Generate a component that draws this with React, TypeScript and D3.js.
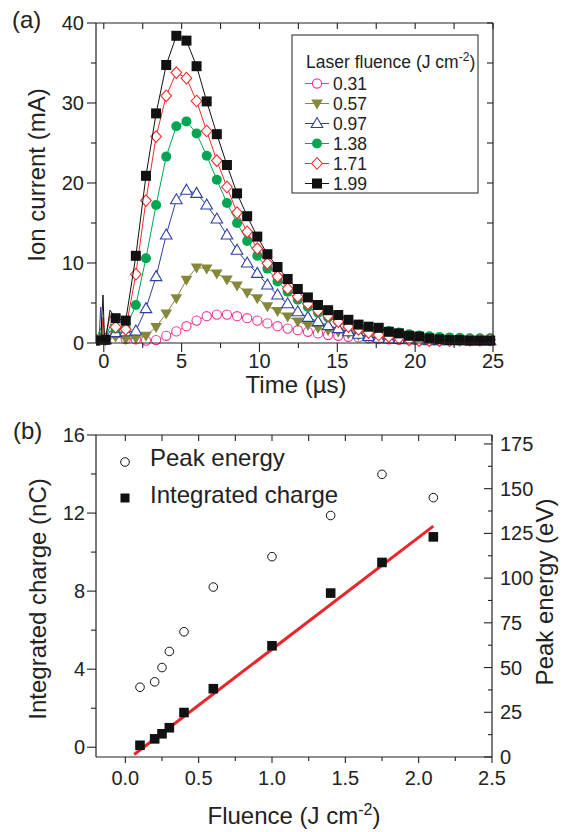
import React from 'react';
import * as d3 from 'd3';

// ---------- Panel (a) data ----------
const TIME = [-0.54, 0.11, 0.76, 1.41, 2.06, 2.71, 3.36, 4.01, 4.66, 5.31, 5.96, 6.61, 7.26, 7.91, 8.56, 9.21, 9.86, 10.51, 11.16, 11.81, 12.46, 13.11, 13.76, 14.41, 15.06, 15.71, 16.36, 17.01, 17.66, 18.31, 18.96, 19.61, 20.26, 20.91, 21.56, 22.21, 22.86, 23.51, 24.16, 24.81];

const ION_031 = [0.5, 0.4, 1.1, 0.5, 0.45, 0.3, 0.37, 0.9, 1.45, 2.1, 2.8, 3.35, 3.55, 3.55, 3.35, 3.1, 2.8, 2.45, 2.1, 1.8, 1.6, 1.4, 1.2, 1.0, 0.9, 0.78, 0.7, 0.58, 0.5, 0.45, 0.4, 0.4, 0.3, 0.3, 0.3, 0.3, 0.3, 0.3, 0.3, 0.3];
const ION_057 = [0.3, 0.3, 0.8, 0.5, 0.6, 0.9, 2.0, 3.7, 5.6, 7.9, 9.45, 9.3, 8.7, 7.95, 7.2, 6.3, 5.6, 4.6, 4.0, 3.3, 2.7, 2.25, 1.9, 1.6, 1.4, 1.2, 1.0, 0.85, 0.7, 0.6, 0.5, 0.45, 0.4, 0.35, 0.35, 0.35, 0.3, 0.3, 0.3, 0.3];
const ION_097 = [0.4, 0.4, 1.3, 1.4, 1.5, 4.3, 8.3, 13.5, 17.9, 19.1, 18.7, 17.25, 15.5, 13.5, 11.6, 10.0, 8.7, 7.25, 6.0, 4.9, 3.9, 3.2, 2.67, 2.17, 1.8, 1.4, 1.1, 0.8, 0.6, 0.5, 0.45, 0.4, 0.35, 0.3, 0.3, 0.3, 0.3, 0.3, 0.3, 0.3];
const ION_138 = [0.4, 0.5, 1.8, 1.8, 4.75, 10.6, 17.25, 23.3, 27.1, 27.7, 26.2, 23.4, 20.4, 17.5, 15.0, 12.75, 10.9, 9.3, 7.7, 6.4, 5.4, 4.5, 3.8, 3.2, 2.7, 2.3, 2.0, 1.8, 1.65, 1.5, 1.3, 1.1, 0.95, 0.85, 0.75, 0.7, 0.65, 0.6, 0.6, 0.6];
const ION_171 = [0.4, 0.5, 2.0, 1.7, 8.6, 17.8, 25.8, 30.9, 33.8, 33.1, 30.25, 26.5, 22.8, 19.5, 16.3, 13.9, 11.8, 9.96, 8.3, 6.8, 5.8, 4.9, 4.05, 3.4, 2.67, 2.04, 1.7, 1.3, 1.0, 0.8, 0.6, 0.4, 0.3, 0.3, 0.3, 0.3, 0.35, 0.35, 0.35, 0.4];
const ION_199 = [0.3, 0.4, 3.1, 2.8, 10.9, 20.9, 28.7, 34.75, 38.4, 37.8, 34.6, 30.2, 26.1, 22.25, 18.7, 15.85, 13.3, 11.1, 9.5, 8.0, 6.75, 5.7, 4.75, 4.1, 3.5, 2.9, 2.3, 2.04, 1.9, 1.4, 1.2, 0.9, 0.8, 0.58, 0.46, 0.37, 0.37, 0.3, 0.3, 0.3];

// unmarked noise spikes near t = 0 (line only)
const SPIKE_T_031 = [-0.1, 0.0];
const SPIKE_V_031 = [1.0, 0.3];
const SPIKE_T_057 = [-0.1, 0.0];
const SPIKE_V_057 = [1.4, 0.3];
const SPIKE_T_097 = [-0.3, -0.2, -0.1, 0.4];
const SPIKE_V_097 = [0.4, 4.5, 0.3, 1.5];
const SPIKE_T_138 = [-0.1, 0.0, 0.45];
const SPIKE_V_138 = [2.2, 0.3, 2.4];
const SPIKE_T_171 = [-0.15, -0.05, 0.05, 0.4];
const SPIKE_V_171 = [0.5, 3.2, 0.4, 3.4];
const SPIKE_T_199 = [-0.2, -0.05, 0.05, 0.4];
const SPIKE_V_199 = [0.3, 6.0, 0.3, 4.1];

const FLUENCE_LABELS = ['0.31', '0.57', '0.97', '1.38', '1.71', '1.99'];
const TIME_TICKS = [0, 5, 10, 15, 20, 25];
const ION_TICKS = [0, 10, 20, 30, 40];

// ---------- Panel (b) data ----------
const FLUENCE = [0.1, 0.2, 0.25, 0.3, 0.4, 0.6, 1.0, 1.4, 1.75, 2.1];
const PEAK_ENERGY = [39, 42, 50, 59, 70, 95, 112, 135, 158, 145];
const CHARGE = [0.1, 0.43, 0.69, 1.0, 1.78, 3.0, 5.2, 7.9, 9.47, 10.78];
const FIT_X = [0.06, 2.1];
const FIT_Y = [-0.37, 11.33];
const FLUENCE_TICKS = [0, 0.5, 1.0, 1.5, 2.0, 2.5];
const CHARGE_TICKS = [0, 4, 8, 12, 16];
const ENERGY_TICKS = [0, 25, 50, 75, 100, 125, 150, 175];

const FONT = 'Liberation Sans, Arial, Helvetica, sans-serif';

type Shape = 'circleOpen' | 'triDownFilled' | 'triUpOpen' | 'circleFilled' | 'diamondOpen' | 'squareFilled';

function Marker({ shape, x, y, color }: { shape: Shape; x: number; y: number; color: string }) {
  switch (shape) {
    case 'circleOpen':
      return <circle cx={x} cy={y} r={4.6} fill="white" stroke={color} strokeWidth={1.1} />;
    case 'circleFilled':
      return <circle cx={x} cy={y} r={5} fill={color} />;
    case 'squareFilled':
      return <rect x={x - 5} y={y - 5} width={10} height={10} fill={color} />;
    case 'diamondOpen':
      return (
        <polygon
          points={`${x},${y - 5.8} ${x + 5.3},${y} ${x},${y + 5.8} ${x - 5.3},${y}`}
          fill="white"
          stroke={color}
          strokeWidth={1.1}
        />
      );
    case 'triUpOpen':
      return (
        <polygon
          points={`${x},${y - 6} ${x + 5.8},${y + 4} ${x - 5.8},${y + 4}`}
          fill="white"
          stroke={color}
          strokeWidth={1.1}
        />
      );
    case 'triDownFilled':
      return <polygon points={`${x - 5.8},${y - 4} ${x + 5.8},${y - 4} ${x},${y + 6}`} fill={color} />;
  }
  return null;
}

const SERIES = [
  { label: FLUENCE_LABELS[0], values: ION_031, st: SPIKE_T_031, sv: SPIKE_V_031, color: '#f0389a', shape: 'circleOpen' as Shape },
  { label: FLUENCE_LABELS[1], values: ION_057, st: SPIKE_T_057, sv: SPIKE_V_057, color: '#85873a', shape: 'triDownFilled' as Shape },
  { label: FLUENCE_LABELS[2], values: ION_097, st: SPIKE_T_097, sv: SPIKE_V_097, color: '#2e3f9e', shape: 'triUpOpen' as Shape },
  { label: FLUENCE_LABELS[3], values: ION_138, st: SPIKE_T_138, sv: SPIKE_V_138, color: '#00a651', shape: 'circleFilled' as Shape },
  { label: FLUENCE_LABELS[4], values: ION_171, st: SPIKE_T_171, sv: SPIKE_V_171, color: '#f02a2a', shape: 'diamondOpen' as Shape },
  { label: FLUENCE_LABELS[5], values: ION_199, st: SPIKE_T_199, sv: SPIKE_V_199, color: '#111111', shape: 'squareFilled' as Shape },
];

export default function App() {
  // ---- Panel (a) scales ----
  const xA = d3.scaleLinear().domain([-0.5, 25]).range([96, 493]);
  const yA = d3.scaleLinear().domain([0, 40]).range([343, 23]);
  const lineA = d3
    .line<[number, number]>()
    .x((d) => xA(d[0]))
    .y((d) => yA(d[1]));

  // ---- Panel (b) scales ----
  const xB = d3.scaleLinear().domain([-0.2, 2.5]).range([96, 492]);
  const yB = d3.scaleLinear().domain([-0.5, 16]).range([757, 435]);
  const yE = d3.scaleLinear().domain([0, 180]).range([757, 435]);
  const lineB = d3
    .line<[number, number]>()
    .x((d) => xB(d[0]))
    .y((d) => yB(d[1]));

  const tickFont = 20;

  const aMinorX = d3.range(0, 25.01, 2.5);
  const aMinorY = d3.range(0, 40.01, 5);
  const bMinorX = d3.range(0, 2.51, 0.25);
  const bMinorY = d3.range(0, 16.01, 2);
  const bMinorE = d3.range(0, 180.01, 12.5);

  return (
    <svg
      width={566}
      height={832}
      style={{ position: 'absolute', left: 0, top: 0, background: 'white' }}
      fontFamily={FONT}
    >
      <defs>
        <clipPath id="clipA">
          <rect x={96} y={0} width={420} height={360} />
        </clipPath>
      </defs>

      {/* ================= Panel (a) ================= */}
      <text x={12} y={28} fontSize={24} fill="#222">(a)</text>

      {/* series */}
      <g clipPath="url(#clipA)">
        {SERIES.map((s) => {
          const pts: [number, number][] = TIME.map((t, i) => [t, s.values[i]] as [number, number]);
          const spikes: [number, number][] = s.st.map((t, i) => [t, s.sv[i]] as [number, number]);
          const all = [...pts, ...spikes].sort((a, b) => a[0] - b[0]);
          return (
            <g key={s.label}>
              <path d={lineA(all) || ''} fill="none" stroke={s.color} strokeWidth={1} />
              {pts.map((p, i) => (
                <Marker key={i} shape={s.shape} x={xA(p[0])} y={yA(p[1])} color={s.color} />
              ))}
            </g>
          );
        })}
      </g>

      {/* axes frame */}
      <g stroke="#222" strokeWidth={1.2} fill="none">
        <line x1={96} y1={23} x2={96} y2={343} />
        <line x1={96} y1={343} x2={493} y2={343} />
        <line x1={96} y1={23} x2={493} y2={23} />
        <line x1={493} y1={23} x2={493} y2={343} />
      </g>
      <g stroke="#222" strokeWidth={1.1}>
        {aMinorX.map((v) => {
          const major = v % 5 === 0;
          return (
            <g key={'ax' + v}>
              <line x1={xA(v)} x2={xA(v)} y1={343} y2={343 + (major ? 9 : 5)} />
              <line x1={xA(v)} x2={xA(v)} y1={23} y2={23 + 6} />
            </g>
          );
        })}
        {aMinorY.map((v) => {
          const major = v % 10 === 0;
          return (
            <g key={'ay' + v}>
              <line x1={96 - (major ? 9 : 5)} x2={96} y1={yA(v)} y2={yA(v)} />
              <line x1={493 - 6} x2={493} y1={yA(v)} y2={yA(v)} />
            </g>
          );
        })}
      </g>
      <g fontSize={tickFont} fill="#222">
        {TIME_TICKS.map((v) => (
          <text key={'tx' + v} x={xA(v)} y={368} textAnchor="middle">{v}</text>
        ))}
        {ION_TICKS.map((v) => (
          <text key={'ty' + v} x={84} y={yA(v) + 7} textAnchor="end">{v}</text>
        ))}
      </g>
      <text x={296} y={393} fontSize={24} textAnchor="middle" fill="#222">Time (µs)</text>
      <text transform="translate(45,175) rotate(-90)" fontSize={24} textAnchor="middle" fill="#222">Ion current (mA)</text>

      {/* legend */}
      <rect x={292} y={35} width={186} height={158} fill="white" stroke="#222" strokeWidth={1} />
      <text x={306} y={68} fontSize={17.5} fill="#222">
        Laser fluence (J cm
        <tspan dy={-7} fontSize={12}>-2</tspan>
        <tspan dy={7}>)</tspan>
      </text>
      {SERIES.map((s, i) => {
        const cy = 83.5 + 20 * i;
        return (
          <g key={'lg' + s.label}>
            <line x1={305} x2={329} y1={cy} y2={cy} stroke={s.color} strokeWidth={1} />
            <Marker shape={s.shape} x={317} y={cy} color={s.color} />
            <text x={333} y={cy + 6.5} fontSize={17.5} fill="#222">{s.label}</text>
          </g>
        );
      })}

      {/* ================= Panel (b) ================= */}
      <text x={13} y={439} fontSize={24} fill="#222">(b)</text>

      <path
        d={lineB(FIT_X.map((x, i) => [x, FIT_Y[i]] as [number, number])) || ''}
        stroke="#e8262b"
        strokeWidth={3}
        fill="none"
      />
      {FLUENCE.map((f, i) => (
        <circle key={'pe' + i} cx={xB(f)} cy={yE(PEAK_ENERGY[i])} r={4.3} fill="white" stroke="#111" strokeWidth={1} />
      ))}
      {FLUENCE.map((f, i) => (
        <rect key={'ic' + i} x={xB(f) - 4.8} y={yB(CHARGE[i]) - 4.8} width={9.6} height={9.6} fill="#111" />
      ))}

      <g stroke="#222" strokeWidth={1.2} fill="none">
        <line x1={96} y1={435} x2={96} y2={757} />
        <line x1={96} y1={757} x2={492} y2={757} />
        <line x1={96} y1={435} x2={492} y2={435} />
        <line x1={492} y1={435} x2={492} y2={757} />
      </g>
      <g stroke="#222" strokeWidth={1.1}>
        {bMinorX.map((v, i) => {
          const major = i % 2 === 0;
          return (
            <g key={'bx' + i}>
              <line x1={xB(v)} x2={xB(v)} y1={757} y2={757 + (major ? 6 : 4)} />
              <line x1={xB(v)} x2={xB(v)} y1={435} y2={435 + 6} />
            </g>
          );
        })}
        {bMinorY.map((v) => {
          const major = v % 4 === 0;
          return <line key={'by' + v} x1={96 - (major ? 9 : 5)} x2={96} y1={yB(v)} y2={yB(v)} />;
        })}
        {bMinorE.map((v, i) => {
          const major = i % 2 === 0;
          return <line key={'be' + i} x1={492 - (major ? 8 : 4)} x2={492} y1={yE(v)} y2={yE(v)} />;
        })}
      </g>
      <g fontSize={tickFont} fill="#222">
        {FLUENCE_TICKS.map((v) => (
          <text key={'fx' + v} x={xB(v)} y={785} textAnchor="middle">{v.toFixed(1)}</text>
        ))}
        {CHARGE_TICKS.map((v) => (
          <text key={'cy' + v} x={85} y={yB(v) + 7} textAnchor="end">{v}</text>
        ))}
        {ENERGY_TICKS.map((v) => (
          <text key={'ey' + v} x={500} y={yE(v) + 7} textAnchor="start">{v}</text>
        ))}
      </g>

      {/* legend b */}
      <circle cx={125} cy={462} r={4.3} fill="white" stroke="#111" strokeWidth={1} />
      <text x={150} y={466} fontSize={24} fill="#222">Peak energy</text>
      <rect x={120.5} y={493.5} width={9} height={9} fill="#111" />
      <text x={150} y={503} fontSize={24} fill="#222">Integrated charge</text>

      <text x={294} y={824} fontSize={24} textAnchor="middle" fill="#222">
        Fluence (J cm
        <tspan dy={-9} fontSize={16}>-2</tspan>
        <tspan dy={9}>)</tspan>
      </text>
      <text transform="translate(46,599) rotate(-90)" fontSize={24} textAnchor="middle" fill="#222">Integrated charge (nC)</text>
      <text transform="translate(553,592) rotate(-90)" fontSize={24} textAnchor="middle" fill="#222">Peak energy (eV)</text>
    </svg>
  );
}
